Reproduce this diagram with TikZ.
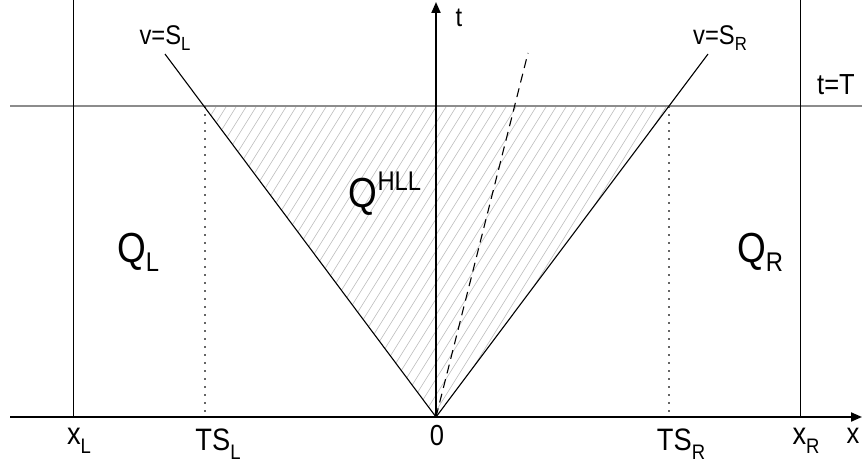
\documentclass[tikz,border=0pt]{standalone}
\usepackage{fontspec}
\setmainfont{Liberation Sans}[FakeStretch=0.88]
\usetikzlibrary{arrows.meta}
\newcommand{\fs}[1]{\fontsize{#1}{#1}\selectfont}
\newcommand{\lowsub}[3]{\raisebox{-#1}{\fs{#2}#3}}
\begin{document}
\begin{tikzpicture}[x=1pt,y=1pt,
  axisline/.style={line width=2pt,-{Triangle[length=11pt,width=9pt]}},
  wall/.style={line width=1pt},
  wave/.style={line width=1.1pt},
  contact/.style={line width=1.1pt,dash pattern=on 9pt off 6pt},
  timeline/.style={line width=1.5pt,color=black!45},
  proj/.style={line width=2.4pt,color=black!60,dash pattern=on 2.4pt off 5.6pt},
  hatch/.style={line width=0.6pt,color=black!25},
  lbl/.style={inner sep=0pt,anchor=base}]
\useasboundingbox (0,0) rectangle (862,467);
% hatching
\begin{scope}
  \clip (205,361) -- (669,361) -- (436,50) -- cycle;
  \foreach \k in {0,...,80} {\draw[hatch] ({6+10*\k},40) -- ++({331/1.6},331);}
\end{scope}
% coordinates
\coordinate (O) at (436,50);
\coordinate (xa0) at (10,50);
\coordinate (xa1) at (862,50);
\coordinate (ta1) at (436,465);
\coordinate (tT0) at (10,361);
\coordinate (tT1) at (862,361);
\coordinate (wl0) at (73,50);
\coordinate (wl1) at (73,467);
\coordinate (wr0) at (800,50);
\coordinate (wr1) at (800,467);
\coordinate (sl) at (165,413);
\coordinate (sr) at (708,413);
\coordinate (cd) at (528,414);
\coordinate (pl0) at (205,361);
\coordinate (pl1) at (205,50);
\coordinate (pr0) at (669,361);
\coordinate (pr1) at (669,50);
% lines
\draw[timeline] (tT0) -- (tT1);
\draw[proj] (pl0) -- (pl1);
\draw[proj] (pr0) -- (pr1);
\draw[wall] (wl0) -- (wl1);
\draw[wall] (wr0) -- (wr1);
\draw[wave] (O) -- (sl);
\draw[wave] (O) -- (sr);
\draw[contact] (O) -- (cd);
\draw[axisline] (xa0) -- (xa1);
\draw[axisline] (O) -- (ta1);
% labels
\node[lbl] (vSL) at (165,422) {\fs{27}v=S\lowsub{6pt}{19}{L}};
\node[lbl] (vSR) at (720,422) {\fs{27}v=S\lowsub{6pt}{19}{R}};
\node[lbl] (tT) at (836,372) {\fs{29}t=T};
\node[lbl] (tl) at (459,440) {\fs{27}t};
\node[lbl] (QL) at (138,205) {\fs{42}Q\lowsub{9pt}{27}{L}};
\node[lbl] (QR) at (760,205) {\fs{42}Q\lowsub{9pt}{27}{R}};
\node[lbl] (QH) at (385,260) {\fs{42}Q\raisebox{17pt}{\fs{27}HLL}};
\node[lbl] (xL) at (79,23) {\fs{31}x\lowsub{9pt}{21}{L}};
\node[lbl] (TSL) at (218,17) {\fs{31}TS\lowsub{9pt}{21}{L}};
\node[lbl] (zero) at (437,22) {\fs{29}0};
\node[lbl] (TSR) at (681,17) {\fs{31}TS\lowsub{9pt}{21}{R}};
\node[lbl] (xR) at (806,23) {\fs{31}x\lowsub{9pt}{21}{R}};
\node[lbl] (xl) at (853,24) {\fs{29}x};
\end{tikzpicture}
\end{document}
